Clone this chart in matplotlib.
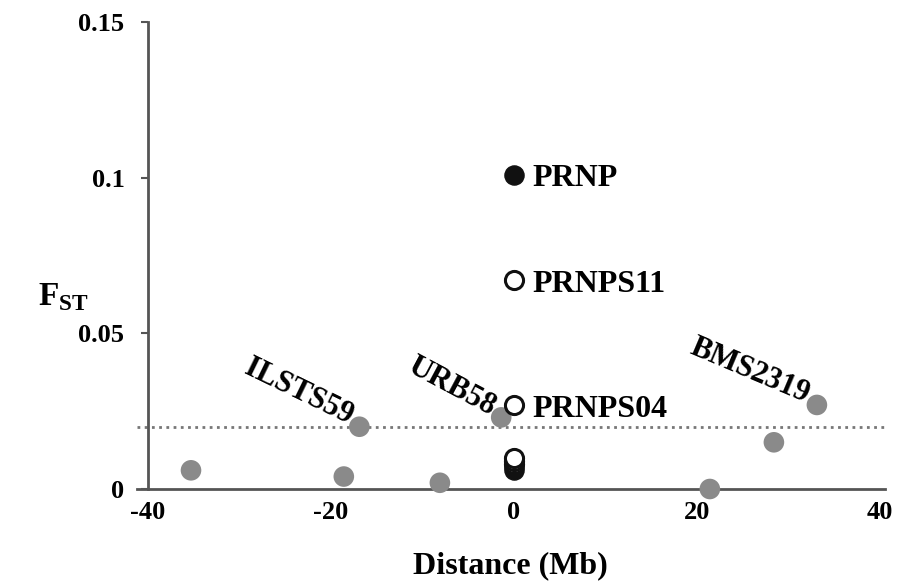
import matplotlib.pyplot as plt

plt.rcParams['font.family'] = ['Liberation Serif', 'DejaVu Serif']
plt.rcParams['font.weight'] = 'bold'
plt.rcParams['mathtext.fontset'] = 'custom'
plt.rcParams['mathtext.rm'] = 'Liberation Serif:bold'
plt.rcParams['mathtext.bf'] = 'Liberation Serif:bold'

# flanking markers (grey)
flank_x = [-35.3, -18.6, -8.1, -16.9, -1.4, 21.4, 28.4, 33.1]
flank_y = [0.006, 0.004, 0.002, 0.020, 0.023, 0.000, 0.015, 0.027]

# PRNP region markers
solid_x = [0, 0, 0]
solid_y = [0.101, 0.006, 0.007]
open_x = [0, 0, 0, 0, 0]
open_y = [0.067, 0.027, 0.008, 0.009, 0.010]

threshold = 0.02

point_labels = ['PRNP', 'PRNPS11', 'PRNPS04']
point_label_xy = [(0, 0.101), (0, 0.067), (0, 0.027)]
rot_labels = ['ILSTS59', 'URB58', 'BMS2319']
rot_label_xy = [(-16.9, 0.020), (-1.4, 0.023), (33.1, 0.027)]
rot_angles = [-26, -28, -23]

xticks = [-40, -20, 0, 20, 40]
xticklabels = ['-40', '-20', '0', '20', '40']
yticks = [0, 0.05, 0.1, 0.15]
yticklabels = ['0', '0.05', '0.1', '0.15']

fig = plt.figure(figsize=(8.99, 5.82), dpi=100)
ax = fig.add_axes([0.1524, 0.1598, 0.8316, 0.8024])

ax.axhline(threshold, color='#777777', lw=2, ls=(0, (1, 1.6)), zorder=1)

ax.scatter(flank_x, flank_y, s=220, color='#8a8a8a', edgecolor='none', zorder=3, clip_on=False)
ax.scatter(solid_x, solid_y, s=190, color='#111111', edgecolor='#111111', zorder=4, clip_on=False)
ax.scatter(open_x, open_y, s=170, facecolor='white', edgecolor='#111111', linewidth=2.2, zorder=5, clip_on=False)

for lab, (x, y) in zip(point_labels, point_label_xy):
    ax.annotate(lab, (x, y), xytext=(13, -3), textcoords='offset points', fontsize=23,
                fontweight='bold', ha='left', va='center', zorder=6)

for lab, (x, y), ang in zip(rot_labels, rot_label_xy, rot_angles):
    ax.annotate(lab, (x, y), xytext=(-10, -3), textcoords='offset points', fontsize=22,
                fontweight='bold', rotation=ang, rotation_mode='anchor', ha='right', va='bottom', zorder=6)

ax.set_xlim(-41.2, 40.5)
ax.set_ylim(0, 0.15)

for s in ['top', 'right']:
    ax.spines[s].set_visible(False)
ax.spines['left'].set_position(('data', -40))
for s in ['left', 'bottom']:
    ax.spines[s].set_color('#555555')
    ax.spines[s].set_linewidth(2)

ax.set_xticks(xticks)
ax.set_xticklabels(xticklabels)
ax.set_yticks(yticks)
ax.set_yticklabels(yticklabels)
ax.tick_params(axis='x', length=0, pad=9, labelsize=19)
ax.tick_params(axis='y', length=5, width=1.5, color='#555555', pad=12, labelsize=19)
for t in ax.get_xticklabels() + ax.get_yticklabels():
    t.set_fontweight('bold')

ax.set_xlabel('Distance (Mb)', fontsize=23, fontweight='bold', labelpad=19)
fig.text(0.042, 0.49, r'F$_{\mathrm{ST}}$', fontsize=24, fontweight='bold', ha='left', va='center')

fig.savefig('out.png', dpi=100)
